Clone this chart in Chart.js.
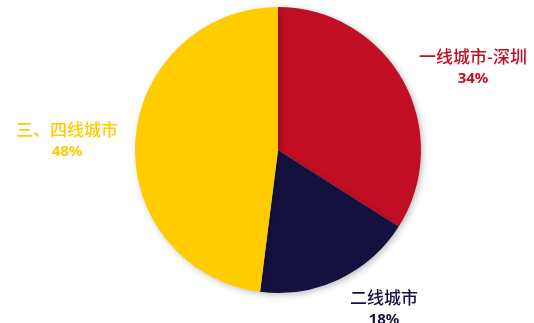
<!DOCTYPE html>
<html>
<head>
<meta charset="utf-8">
<script src="https://cdn.jsdelivr.net/npm/chart.js@4/dist/chart.umd.min.js"></script>
<style>
  html, body { margin: 0; padding: 0; background: #fff; }
  #wrap { width: 534px; height: 323px; }
</style>
</head>
<body>
<div id="wrap"><canvas id="chart" width="534" height="323"></canvas></div>
<script>
'use strict';

const cityLabels = ['一线城市-深圳', '二线城市', '三、四线城市']
const shareValues = [34, 18, 48]
const sliceColors = ['#C20E24', '#15113F', '#FFCC00']

// label anchor spots next to each slice
const labelSpots = [[473, 57], [384, 298], [67, 130]]

const shadowPlugin = {
    id: 'shadow',
    beforeDatasetsDraw(chart) {
        const ctx = chart.ctx
        ctx.save()
        ctx.shadowColor = 'rgba(0,0,0,0.25)'
        ctx.shadowBlur = 6
        ctx.shadowOffsetX = 2
        ctx.shadowOffsetY = 2
    },
    afterDatasetsDraw(chart) {
        chart.ctx.restore()
    }
}

const labelPlugin = {
    id: 'sliceLabels',
    afterDraw(chart) {
        const ctx = chart.ctx
        ctx.save()
        ctx.textAlign = 'center'
        ctx.textBaseline = 'middle'
        cityLabels.forEach((name, i) => {
            const [x, y] = labelSpots[i]
            ctx.fillStyle = sliceColors[i]
            ctx.font = '500 17px "Noto Sans CJK SC"'
            ctx.fillText(name, x, y)
            ctx.font = 'bold 15px "Noto Sans"'
            ctx.fillText(shareValues[i] + '%', x, y + 22)
        })
        ctx.restore()
    }
}

const ctx = document.getElementById('chart').getContext('2d')
const chart = new Chart(ctx, {
    type: 'pie',
    data: {
        labels: cityLabels,
        datasets: [{
            data: shareValues,
            backgroundColor: sliceColors,
            borderWidth: 0,
        }]
    },
    options: {
        responsive: false,
        animation: false,
        layout: { padding: { left: 22, right: 0, top: 7, bottom: 30 } },
        plugins: {
            legend: { display: false },
            tooltip: { enabled: false }
        }
    },
    plugins: [shadowPlugin, labelPlugin]
})
</script>
</body>
</html>
